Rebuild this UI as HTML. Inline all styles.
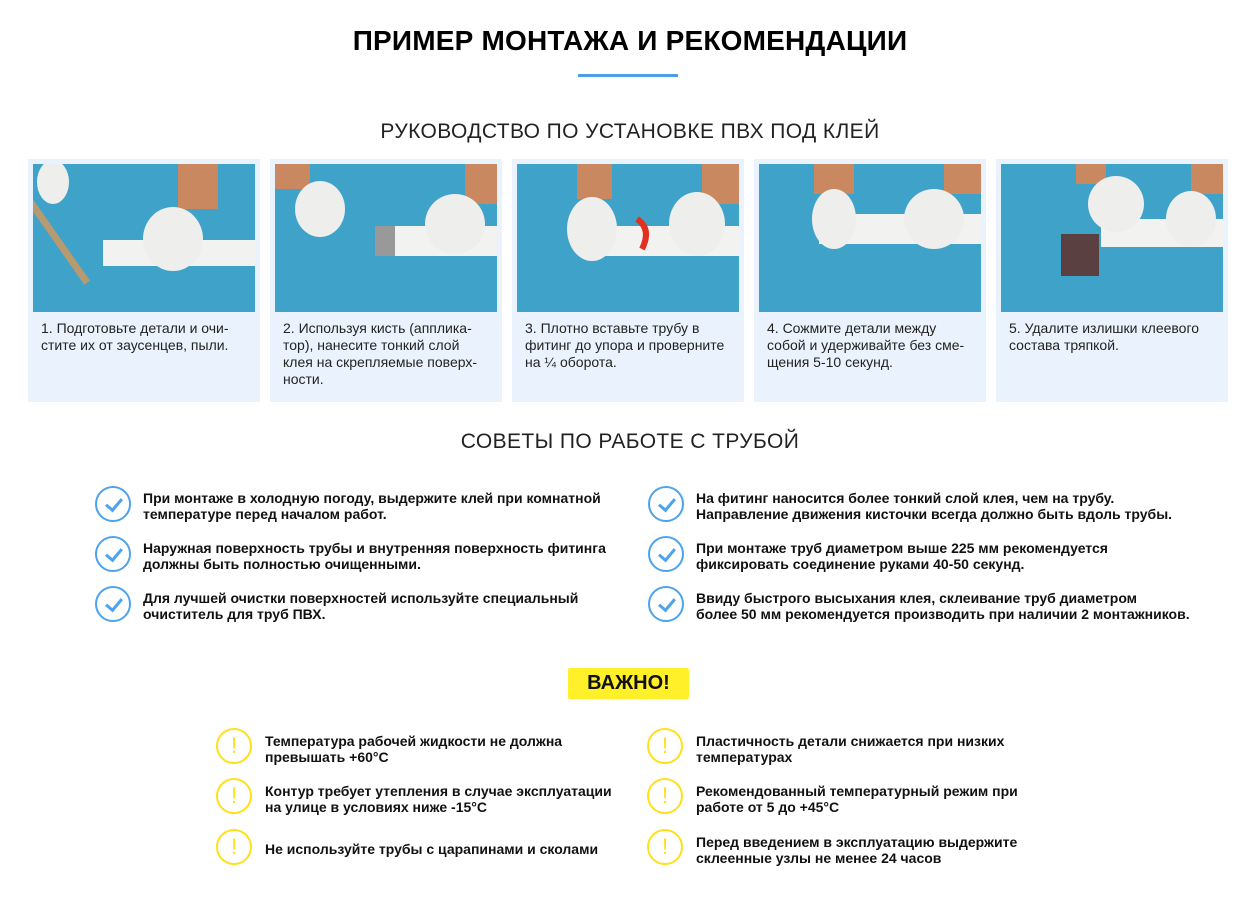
<!DOCTYPE html>
<html><head><meta charset="utf-8"><style>
*{margin:0;padding:0;box-sizing:border-box}
body{width:1260px;height:915px;background:#fff;position:relative;overflow:hidden;font-family:"Liberation Sans",Arial,sans-serif;color:#111}
.a{position:absolute;white-space:nowrap}
.h1{left:0;width:1260px;text-align:center;top:25px;font-size:28px;font-weight:bold;letter-spacing:0.2px;color:#000}
.h2{left:0;width:1260px;text-align:center;font-size:21px;font-weight:normal;letter-spacing:0.4px;color:#222}
.card{position:absolute;top:159px;width:232px;height:243px;background:#eaf3fd}
.card svg{position:absolute;left:5px;top:5px}
.card p{position:absolute;left:13px;top:161px;font-size:14px;line-height:17px;color:#222;white-space:nowrap}
.t{position:absolute;font-size:14px;font-weight:bold;line-height:16px;white-space:nowrap}
.ic{position:absolute;width:36px;height:36px;border-radius:50%}
.ck{border:2px solid #4da3ef}
.ck:after{content:"";position:absolute;left:12px;top:7px;width:7px;height:13px;border-right:3px solid #4da3ef;border-bottom:3px solid #4da3ef;transform:rotate(40deg)}
.wr{border:2px solid #ffe01a;color:#ffe01a;font-size:22px;text-align:center;line-height:32px}
</style></head><body>
<div class="a h1">ПРИМЕР МОНТАЖА И РЕКОМЕНДАЦИИ</div>
<div class="a" style="left:578px;top:74px;width:100px;height:3px;background:#4a9fe8"></div>
<div class="a h2" style="top:120px">РУКОВОДСТВО ПО УСТАНОВКЕ ПВХ ПОД КЛЕЙ</div>

<div class="card" style="left:28px"><svg width="222" height="148"><rect width="222" height="148" fill="#3fa3c9"/><rect x="70" y="76" width="152" height="26" fill="#f2f2f0"/><rect x="22" y="28" width="7" height="100" fill="#b89a70" transform="rotate(-35 25 78)"/><ellipse cx="20" cy="18" rx="16" ry="22" fill="#eeeeec"/><rect x="145" y="0" width="40" height="45" fill="#c98860"/><ellipse cx="140" cy="75" rx="30" ry="32" fill="#eeeeec"/></svg><p>1. Подготовьте детали и очи-<br>стите их от заусенцев, пыли.</p></div>
<div class="card" style="left:270px"><svg width="222" height="148"><rect width="222" height="148" fill="#3fa3c9"/><rect x="100" y="62" width="122" height="30" fill="#f2f2f0"/><rect x="100" y="62" width="20" height="30" fill="#999"/><rect x="0" y="0" width="35" height="25" fill="#c98860"/><ellipse cx="45" cy="45" rx="25" ry="28" fill="#eeeeec"/><rect x="190" y="0" width="32" height="40" fill="#c98860"/><ellipse cx="180" cy="60" rx="30" ry="30" fill="#eeeeec"/></svg><p>2. Используя кисть (апплика-<br>тор), нанесите тонкий слой<br>клея на скрепляемые поверх-<br>ности.</p></div>
<div class="card" style="left:512px"><svg width="222" height="148"><rect width="222" height="148" fill="#3fa3c9"/><rect x="70" y="62" width="152" height="30" fill="#f2f2f0"/><rect x="60" y="0" width="35" height="35" fill="#c98860"/><ellipse cx="75" cy="65" rx="25" ry="32" fill="#eeeeec"/><rect x="185" y="0" width="37" height="40" fill="#c98860"/><ellipse cx="180" cy="60" rx="28" ry="32" fill="#eeeeec"/><path d="M120 55 q15 10 5 30" stroke="#e03020" stroke-width="6" fill="none"/></svg><p>3. Плотно вставьте трубу в<br>фитинг до упора и проверните<br>на ¼ оборота.</p></div>
<div class="card" style="left:754px"><svg width="222" height="148"><rect width="222" height="148" fill="#3fa3c9"/><rect x="60" y="50" width="162" height="30" fill="#f2f2f0"/><rect x="55" y="0" width="40" height="30" fill="#c98860"/><ellipse cx="75" cy="55" rx="22" ry="30" fill="#eeeeec"/><rect x="185" y="0" width="37" height="30" fill="#c98860"/><ellipse cx="175" cy="55" rx="30" ry="30" fill="#eeeeec"/></svg><p>4. Сожмите детали между<br>собой и удерживайте без сме-<br>щения 5-10 секунд.</p></div>
<div class="card" style="left:996px"><svg width="222" height="148"><rect width="222" height="148" fill="#3fa3c9"/><rect x="100" y="55" width="122" height="28" fill="#f2f2f0"/><rect x="60" y="70" width="38" height="42" fill="#5a4040"/><rect x="75" y="0" width="30" height="20" fill="#c98860"/><ellipse cx="115" cy="40" rx="28" ry="28" fill="#eeeeec"/><rect x="190" y="0" width="32" height="30" fill="#c98860"/><ellipse cx="190" cy="55" rx="25" ry="28" fill="#eeeeec"/></svg><p>5. Удалите излишки клеевого<br>состава тряпкой.</p></div>

<div class="a h2" style="top:430px">СОВЕТЫ ПО РАБОТЕ С ТРУБОЙ</div>

<div class="ic ck" style="left:95px;top:486px"></div><div class="t" style="left:143px;top:490px">При монтаже в холодную погоду, выдержите клей при комнатной<br>температуре перед началом работ.</div>
<div class="ic ck" style="left:95px;top:536px"></div><div class="t" style="left:143px;top:540px">Наружная поверхность трубы и внутренняя поверхность фитинга<br>должны быть полностью очищенными.</div>
<div class="ic ck" style="left:95px;top:586px"></div><div class="t" style="left:143px;top:590px">Для лучшей очистки поверхностей используйте специальный<br>очиститель для труб ПВХ.</div>
<div class="ic ck" style="left:648px;top:486px"></div><div class="t" style="left:696px;top:490px">На фитинг наносится более тонкий слой клея, чем на трубу.<br>Направление движения кисточки всегда должно быть вдоль трубы.</div>
<div class="ic ck" style="left:648px;top:536px"></div><div class="t" style="left:696px;top:540px">При монтаже труб диаметром выше 225 мм рекомендуется<br>фиксировать соединение руками 40-50 секунд.</div>
<div class="ic ck" style="left:648px;top:586px"></div><div class="t" style="left:696px;top:590px">Ввиду быстрого высыхания клея, склеивание труб диаметром<br>более 50 мм рекомендуется производить при наличии 2 монтажников.</div>

<div class="a" style="left:568px;top:668px;width:121px;height:31px;background:#fff02a;border-radius:2px;text-align:center;font-size:20px;font-weight:bold;line-height:31px">ВАЖНО!</div>

<div class="ic wr" style="left:216px;top:728px">!</div><div class="t" style="left:265px;top:733px">Температура рабочей жидкости не должна<br>превышать +60°C</div>
<div class="ic wr" style="left:216px;top:778px">!</div><div class="t" style="left:265px;top:783px">Контур требует утепления в случае эксплуатации<br>на улице в условиях ниже -15°C</div>
<div class="ic wr" style="left:216px;top:829px">!</div><div class="t" style="left:265px;top:841px">Не используйте трубы с царапинами и сколами</div>
<div class="ic wr" style="left:647px;top:728px">!</div><div class="t" style="left:696px;top:733px">Пластичность детали снижается при низких<br>температурах</div>
<div class="ic wr" style="left:647px;top:778px">!</div><div class="t" style="left:696px;top:783px">Рекомендованный температурный режим при<br>работе от 5 до +45°C</div>
<div class="ic wr" style="left:647px;top:829px">!</div><div class="t" style="left:696px;top:834px">Перед введением в эксплуатацию выдержите<br>склеенные узлы не менее 24 часов</div>
</body></html>
